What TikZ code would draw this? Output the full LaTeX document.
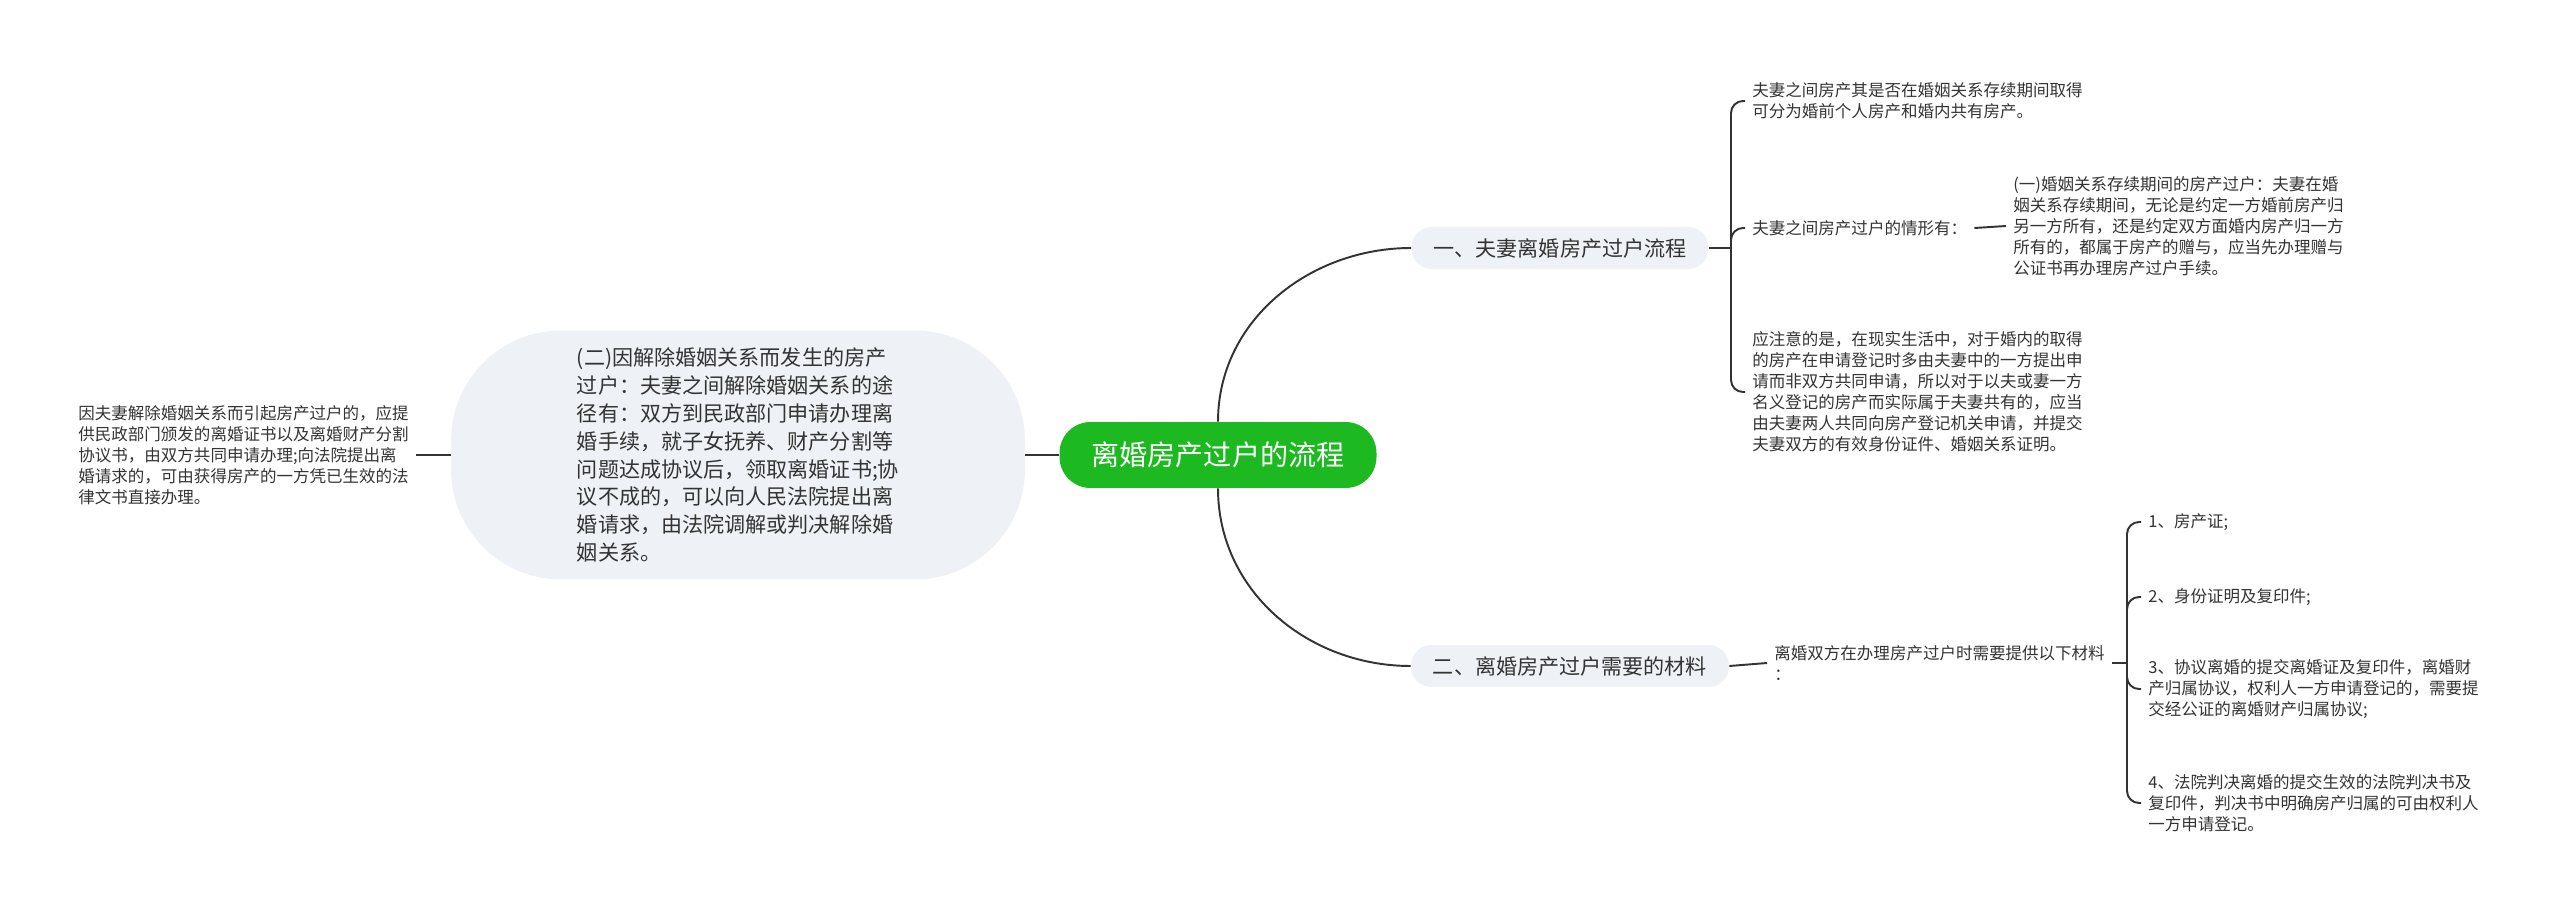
\documentclass[tikz,border=0pt]{standalone}
\usepackage{fontspec}
\setmainfont{Noto Sans CJK SC}
\definecolor{rootgreen}{RGB}{28,186,32}
\definecolor{boxgray}{RGB}{238,241,245}
\definecolor{inkgray}{RGB}{51,51,51}
\begin{document}
\begin{tikzpicture}[x=0.02cm, y=-0.02cm,
    link/.style={draw=inkgray, line width=1.1pt, rounded corners=0.24cm},
    rootbox/.style={fill=rootgreen, text=white, rounded corners=0.62cm, minimum height=1.32cm, inner xsep=0.64cm, font=\fontsize{16}{20}\selectfont},
    topicbox/.style={fill=boxgray, text=inkgray, rounded corners=0.41cm, minimum height=0.84cm, inner xsep=0.44cm, font=\fontsize{12}{16}\selectfont},
    leaf/.style={text=inkgray, align=left, inner xsep=4pt, inner ysep=0pt, font=\fontsize{9.4}{12}\selectfont}]
	\useasboundingbox (0,0) rectangle (2560,915);
	\node[rootbox] (root) at (1218,455) {离婚房产过户的流程};
	\node[topicbox] (b1) at (1560,248) {一、夫妻离婚房产过户流程};
	\node[topicbox] (b2) at (1570,666) {二、离婚房产过户需要的材料};
	\node[topicbox, rounded corners=2.2cm, minimum width=11.48cm, minimum height=4.98cm, align=left, font=\fontsize{12}{15.9}\selectfont] (L) at (738,455) {(二)因解除婚姻关系而发生的房产\\过户：夫妻之间解除婚姻关系的途\\径有：双方到民政部门申请办理离\\婚手续，就子女抚养、财产分割等\\问题达成协议后，领取离婚证书;协\\议不成的，可以向人民法院提出离\\婚请求，由法院调解或判决解除婚\\姻关系。};
	\node[leaf, anchor=west] (leaf0) at (71,455) {因夫妻解除婚姻关系而引起房产过户的，应提\\供民政部门颁发的离婚证书以及离婚财产分割\\协议书，由双方共同申请办理;向法院提出离\\婚请求的，可由获得房产的一方凭已生效的法\\律文书直接办理。};
	\node[leaf, anchor=west] (c1) at (1745,101) {夫妻之间房产其是否在婚姻关系存续期间取得\\可分为婚前个人房产和婚内共有房产。};
	\node[leaf, anchor=west] (c2) at (1745,228) {夫妻之间房产过户的情形有：};
	\node[leaf, anchor=west] (d1) at (2006,226) {(一)婚姻关系存续期间的房产过户：夫妻在婚\\姻关系存续期间，无论是约定一方婚前房产归\\另一方所有，还是约定双方面婚内房产归一方\\所有的，都属于房产的赠与，应当先办理赠与\\公证书再办理房产过户手续。};
	\node[leaf, anchor=west] (c3) at (1745,392) {应注意的是，在现实生活中，对于婚内的取得\\的房产在申请登记时多由夫妻中的一方提出申\\请而非双方共同申请，所以对于以夫或妻一方\\名义登记的房产而实际属于夫妻共有的，应当\\由夫妻两人共同向房产登记机关申请，并提交\\夫妻双方的有效身份证件、婚姻关系证明。};
	\node[leaf, anchor=west] (e1) at (1767,663) {离婚双方在办理房产过户时需要提供以下材料\\：};
	\node[leaf, anchor=west] (f1) at (2141,522) {1、房产证;};
	\node[leaf, anchor=west] (f2) at (2141,597) {2、身份证明及复印件;};
	\node[leaf, anchor=west] (f3) at (2141,689) {3、协议离婚的提交离婚证及复印件，离婚财\\产归属协议，权利人一方申请登记的，需要提\\交经公证的离婚财产归属协议;};
	\node[leaf, anchor=west] (f4) at (2141,803) {4、法院判决离婚的提交生效的法院判决书及\\复印件，判决书中明确房产归属的可由权利人\\一方申请登记。};
	\coordinate (j1) at (1731,248);
	\coordinate (j4) at (2127,663);
	\draw[link] (root.north) to[out=90, in=180] (b1.west);
	\draw[link] (root.south) to[out=-90, in=180] (b2.west);
	\draw[link] (root.west) -- (L.east);
	\draw[link] (L.west) -- (leaf0.east);
	\draw[link] (b1.east) -- (j1);
	\draw[link] (j1) |- (c1.west);
	\draw[link] (j1) |- (c2.west);
	\draw[link] (j1) |- (c3.west);
	\draw[link] (c2.east) -- (d1.west);
	\draw[link] (b2.east) -- (e1.west);
	\draw[link] (e1.east) -- (j4);
	\draw[link] (j4) |- (f1.west);
	\draw[link] (j4) |- (f2.west);
	\draw[link] (j4) |- (f3.west);
	\draw[link] (j4) |- (f4.west);
\end{tikzpicture}
\end{document}
